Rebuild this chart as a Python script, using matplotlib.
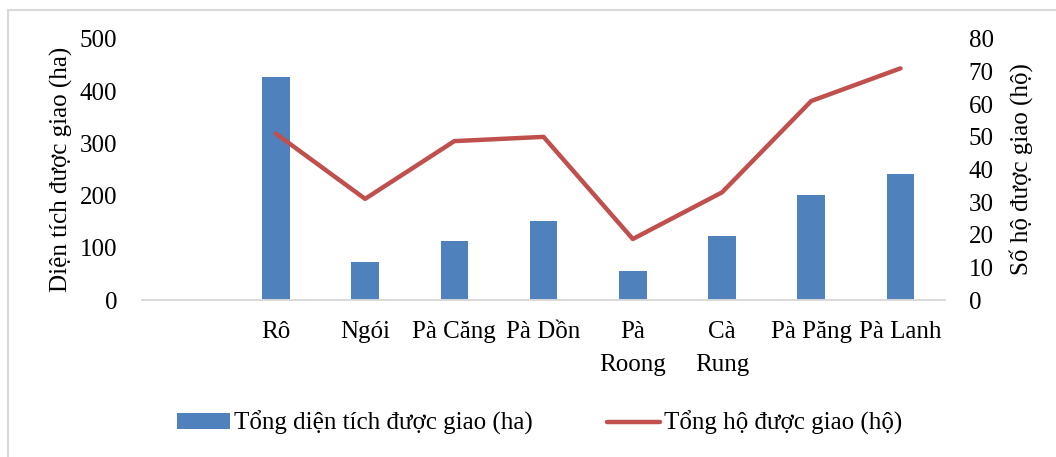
import matplotlib.pyplot as plt
import numpy as np

# Excel 2010 palette
BLUE = "#4f81bd"
RED = "#c0504d"
GRID = "#d9d9d9"

categories = ["", "Rô", "Ngói", "Pà Căng", "Pà Dồn", "Pà\nRoong", "Cà\nRung", "Pà Păng", "Pà Lanh"]
area_ha = [0, 427, 73, 114, 151, 56, 123, 201, 241]
households = [np.nan, 51, 31, 48.7, 50, 18.7, 33, 61, 71]

plt.rcParams.update({
    "font.family": ["Liberation Serif", "DejaVu Serif"],
    "font.size": 18,
})

fig = plt.figure(figsize=(10.56, 4.57), dpi=100)
ax = fig.add_axes([0.1345, 0.3435, 0.7605, 0.5712])
ax2 = ax.twinx()

x = np.arange(len(categories))
bars = ax.bar(x, area_ha, width=0.31, color=BLUE, zorder=2,
              label="Tổng diện tích được giao (ha)")
line, = ax2.plot(x, households, color=RED, linewidth=3.2,
                 solid_capstyle="round", label="Tổng hộ được giao (hộ)")

ax.set_xlim(-0.5, len(categories) - 0.5)
ax.set_ylim(0, 500)
ax.set_yticks(range(0, 501, 100))
ax2.set_ylim(0, 80)
ax2.set_yticks(range(0, 81, 10))

ax.set_xticks(x)
ax.set_xticklabels(categories, va="top", linespacing=1.65)

for a in (ax, ax2):
    for side in ("top", "left", "right"):
        a.spines[side].set_visible(False)
    a.spines["bottom"].set_color(GRID)
    a.spines["bottom"].set_linewidth(1.2)
    a.tick_params(length=0)
ax.tick_params(axis="y", pad=18)
ax.tick_params(axis="x", pad=15)
ax2.tick_params(axis="y", pad=17)

ax.set_ylabel("Diện tích được giao (ha)", labelpad=5)
ax2.set_ylabel("Số hộ được giao (hộ)", labelpad=11)

fig.legend(handles=[bars, line], loc="center", bbox_to_anchor=(0.511, 0.074),
           ncol=2, frameon=False, handlelength=2.1, handleheight=0.6,
           columnspacing=3.0, handletextpad=0.15)

# light frame around the chart (right and bottom edges fall outside the image)
fig.patches.append(plt.Rectangle((0.0075, -0.1), 1.1, 1.078, transform=fig.transFigure,
                                 fill=False, edgecolor=GRID, linewidth=1.5))

fig.savefig("out.png", dpi=100)
